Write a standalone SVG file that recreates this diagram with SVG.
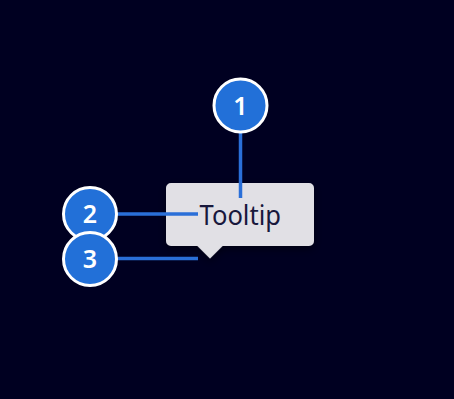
<svg xmlns="http://www.w3.org/2000/svg" width="454" height="399" viewBox="0 0 454 399">
<defs>
<style>
.badge circle{fill:#2270d8;stroke:#ffffff;stroke-width:3}
.badge text{fill:#ffffff;font-family:"Noto Sans","Open Sans",sans-serif;font-size:25px;font-weight:600;text-anchor:middle}
.conn line{stroke:#2a6fd8;stroke-width:3.5}
.tip text{fill:#18183c;font-family:"Noto Sans","Open Sans",sans-serif;font-size:27.5px}
</style>
<filter id="sh" x="-20%" y="-20%" width="140%" height="160%">
<feDropShadow dx="0" dy="3" stdDeviation="4" flood-color="#000000" flood-opacity="0.5"/>
</filter>
</defs>
<rect width="454" height="399" fill="#000021"/>
<g id="tooltip" class="tip">
<path d="M171,183 H309 A5,5 0 0 1 314,188 V241 A5,5 0 0 1 309,246 H222.5 L210,258.5 L197.5,246 H171 A5,5 0 0 1 166,241 V188 A5,5 0 0 1 171,183 Z" fill="#e1e0e5" filter="url(#sh)"/>
<text x="199.5" y="224.7" textLength="81.5" lengthAdjust="spacingAndGlyphs">Tooltip</text>
</g>
<g id="connectors" class="conn">
<line x1="240.5" y1="133" x2="240.5" y2="198"/>
<line x1="117" y1="214" x2="198" y2="214"/>
<line x1="117" y1="258.5" x2="198" y2="258.5"/>
</g>
<g id="badge1" class="badge">
<circle cx="240.5" cy="105.5" r="26.5"/>
<text x="240.5" y="114.5">1</text>
</g>
<g id="badge2" class="badge">
<circle cx="90" cy="214" r="26.5"/>
<text x="90" y="223">2</text>
</g>
<g id="badge3" class="badge">
<circle cx="90" cy="259" r="26.5"/>
<text x="90" y="268">3</text>
</g>
</svg>
